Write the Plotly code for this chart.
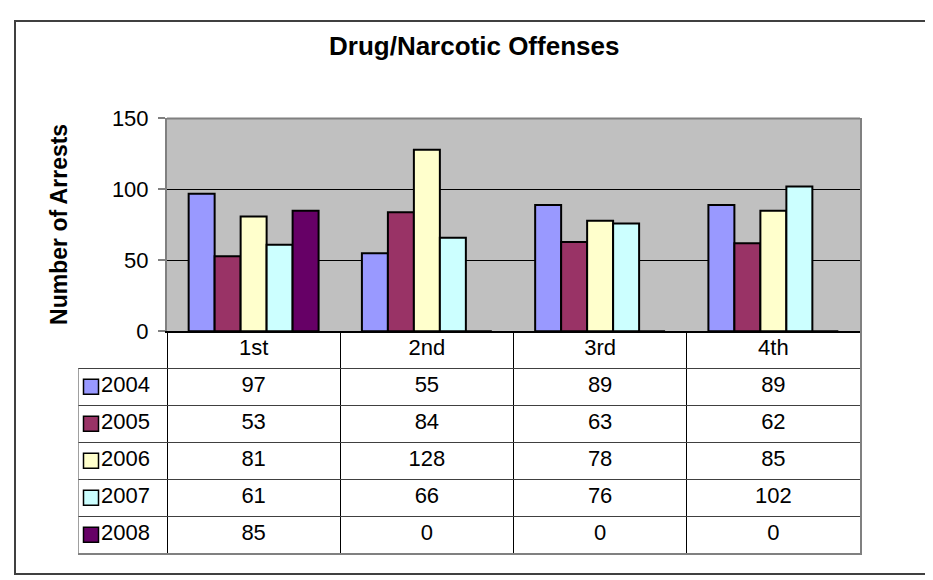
import plotly.graph_objects as go

quarters = ['1st', '2nd', '3rd', '4th']
years = ['2004', '2005', '2006', '2007', '2008']
arrests_2004 = [97, 55, 89, 89]
arrests_2005 = [53, 84, 63, 62]
arrests_2006 = [81, 128, 78, 85]
arrests_2007 = [61, 66, 76, 102]
arrests_2008 = [85, 0, 0, 0]
series = [arrests_2004, arrests_2005, arrests_2006, arrests_2007, arrests_2008]
colors = ['#9999FF', '#993366', '#FFFFCC', '#CCFFFF', '#660066']

W, H = 933, 580
FONT = 'Liberation Sans, Arial, sans-serif'
TXT = 22

# map target screen pixels to paper coords (page offset/scale measured on the render)
def px(p):
    return (p - 8) / W

def py(p):
    t = (p - 3.6) / 0.986
    fy = (t - 16.1) / 0.971
    return 1 - min(max(fy, 1), H - 1) / H

# pixel layout of the excel-like chart (screen coords)
plot_l, plot_r, plot_t, plot_b = 167, 860, 118, 331
tab_l, tab_b = 78, 553
col_w = (plot_r - plot_l) / len(quarters)
x2_start = -0.5 - (plot_l - tab_l) / col_w
key_x = x2_start + 13 / col_w
lab_x = x2_start + 23 / col_w

fig = go.Figure()

for yr, vals, c in zip(years, series, colors):
    fig.add_trace(go.Bar(x=quarters, y=vals, name=yr, marker_color=c,
                         marker_line=dict(color='black', width=2),
                         xaxis='x', yaxis='y', showlegend=False))

# data table below the chart
qidx = list(range(len(quarters)))
fig.add_trace(go.Scatter(x=qidx, y=[0] * len(quarters), text=quarters, mode='text',
                         textfont=dict(size=TXT, color='black', family=FONT),
                         xaxis='x2', yaxis='y2', showlegend=False, hoverinfo='skip'))
for i, (yr, vals, c) in enumerate(zip(years, series, colors)):
    row = i + 1
    fig.add_trace(go.Scatter(x=qidx, y=[row] * len(vals), text=[str(v) for v in vals],
                             mode='text', textfont=dict(size=TXT, color='black', family=FONT),
                             xaxis='x2', yaxis='y2', showlegend=False, hoverinfo='skip'))
    fig.add_trace(go.Scatter(x=[key_x], y=[row], mode='markers',
                             marker=dict(symbol='square', size=15, color=c,
                                         line=dict(color='black', width=1.5)),
                             xaxis='x2', yaxis='y2', showlegend=False, hoverinfo='skip'))
    fig.add_trace(go.Scatter(x=[lab_x], y=[row], text=[yr], mode='text',
                             textposition='middle right',
                             textfont=dict(size=TXT, color='black', family=FONT),
                             xaxis='x2', yaxis='y2', showlegend=False, hoverinfo='skip'))

fig.update_layout(
    width=W, height=H,
    margin=dict(l=0, r=0, t=0, b=0),
    paper_bgcolor='white',
    plot_bgcolor='white',
    font=dict(family=FONT, size=TXT, color='black'),
    barmode='group', bargap=0.25, bargroupgap=0,
    xaxis=dict(domain=[px(plot_l), px(plot_r)], anchor='y', showticklabels=False,
               ticks='', showgrid=False, showline=True, linecolor='black', linewidth=2,
               fixedrange=True),
    yaxis=dict(domain=[py(plot_b), py(plot_t)], anchor='x', range=[0, 150], dtick=50,
               showgrid=True, gridcolor='black', gridwidth=1, zeroline=False,
               showline=True, linecolor='#808080', linewidth=2, mirror=True,
               ticks='outside', ticklen=7, tickcolor='#808080', tickwidth=1.5,
               ticklabelstandoff=5, tickfont=dict(size=22)),
    xaxis2=dict(domain=[px(tab_l), px(plot_r)], anchor='y2',
                range=[x2_start, len(quarters) - 0.5],
                tickvals=[i - 0.5 for i in qidx], showticklabels=False, ticks='',
                showgrid=True, gridcolor='black', gridwidth=1, zeroline=False,
                showline=True, linecolor='#808080', linewidth=1.5),
    yaxis2=dict(domain=[py(tab_b), py(plot_b)], anchor='x2', side='right',
                range=[len(years) + 0.5, -0.5],
                tickvals=[i + 0.5 for i in range(len(years))], showticklabels=False, ticks='',
                showgrid=True, gridcolor='#404040', gridwidth=1, zeroline=False,
                showline=True, linecolor='#808080', linewidth=1.5),
)

# grey plot area behind the bars
fig.add_shape(type='rect', xref='x domain', yref='y domain', x0=0, x1=1, y0=0, y1=1,
              fillcolor='#C0C0C0', line=dict(width=0), layer='below')
fig.add_shape(type='line', xref='x2', yref='y2', x0=x2_start, x1=x2_start,
              y0=0.5, y1=len(years) + 0.5, line=dict(color='#808080', width=1.5))
fig.add_shape(type='line', xref='paper', yref='paper', x0=px(plot_l), x1=px(plot_r),
              y0=py(plot_t), y1=py(plot_t), line=dict(color='#808080', width=2))
# outer chart frame
fig.add_shape(type='rect', xref='paper', yref='paper', x0=px(15), x1=px(928),
              y0=py(578), y1=py(2), line=dict(color='#404040', width=2))

fig.add_annotation(text='<b>Drug/Narcotic Offenses</b>', xref='paper', yref='paper',
                   x=px(474), y=py(45), showarrow=False, font=dict(size=26),
                   xanchor='center', yanchor='middle')
fig.add_annotation(text='<b>Number of Arrests</b>', xref='paper', yref='paper',
                   x=px(59), y=py((plot_t + plot_b) / 2), showarrow=False, textangle=-90,
                   font=dict(size=23), xanchor='center', yanchor='middle')

fig.write_html("out.html", config={'displayModeBar': False})
